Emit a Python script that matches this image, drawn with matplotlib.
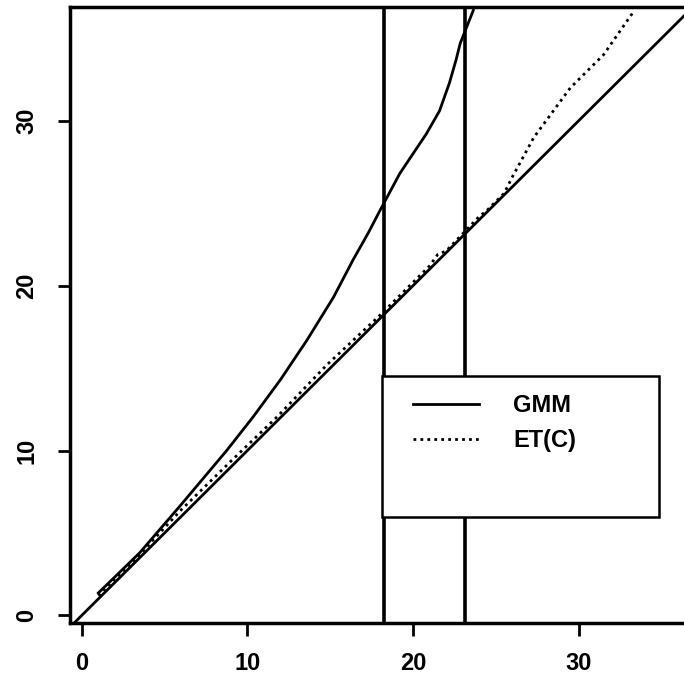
import matplotlib
matplotlib.use("Agg")
import matplotlib.pyplot as plt
from matplotlib.patches import Rectangle

plt.rcParams["font.family"] = ["Liberation Sans", "DejaVu Sans"]
plt.rcParams["font.weight"] = "bold"

# GMM curve
gmm_x = [1.0, 3.5, 5.9, 8.75, 10.36, 12.0, 13.6, 15.2, 16.4, 17.3, 18.0,
         19.2, 20.0, 20.8, 21.6, 22.2, 22.6, 22.85, 23.64]
gmm_y = [1.36, 3.8, 6.6, 10.0, 12.06, 14.3, 16.7, 19.3, 21.6, 23.2, 24.55,
         26.8, 28.0, 29.2, 30.6, 32.3, 33.7, 34.7, 36.7]

# ET(C) curve
et_x = [1.0, 3.5, 6.0, 9.0, 11.8, 14.8, 18.0, 21.0, 21.5, 22.0, 24.0,
        24.4, 25.5, 26.0, 27.3, 29.5, 31.5, 33.3]
et_y = [1.2, 3.7, 6.4, 9.35, 12.05, 15.2, 18.2, 21.2, 21.9, 22.1, 24.2,
        24.5, 25.6, 26.6, 29.0, 32.0, 34.0, 36.6]

vlines_x = [18.25, 23.12]
x_ticks = [0, 10, 20, 30]
y_ticks = [0, 10, 20, 30]

W, H = 684, 686
fig = plt.figure(figsize=(W / 100, H / 100), dpi=100)
ax = fig.add_axes([70 / W, 63 / H, 1 - 70 / W, (623 - 7) / H])

ax.plot(gmm_x, gmm_y, color="black", lw=2.0, label="GMM", zorder=3)
ax.plot(et_x, et_y, color="black", lw=2.0, linestyle=(0, (1, 1.5)),
        label="ET(C)", zorder=3)
ax.axline((0, 0), slope=1, color="black", lw=2.0, zorder=2)
for xv in vlines_x:
    ax.axvline(xv, color="black", lw=2.6, zorder=2)

ax.set_xlim(-0.71, 36.36)
ax.set_ylim(-0.46, 36.9)
ax.set_xticks(x_ticks)
ax.set_yticks(y_ticks)
ax.tick_params(length=9, width=2, labelsize=17)
ax.tick_params(axis="x", pad=12)
ax.tick_params(axis="y", pad=14)
for lab in ax.get_yticklabels():
    lab.set_rotation(90)
    lab.set_va("center")
for side in ["left", "bottom", "top"]:
    ax.spines[side].set_linewidth(2.5)
ax.spines["right"].set_visible(False)

# legend box
box = Rectangle((382 / W, 1 - 517 / H), (659 - 382) / W, (517 - 376) / H,
                transform=fig.transFigure, facecolor="white",
                edgecolor="black", lw=1.8, zorder=5)
fig.add_artist(box)
leg = fig.legend(loc="upper left", bbox_to_anchor=(412.7 / W, 1 - 394 / H),
                 frameon=False, fontsize=17, borderpad=0, borderaxespad=0,
                 handlelength=2.8, handletextpad=1.45, labelspacing=0.5)
leg.set_zorder(6)

fig.savefig("out.png", dpi=100)
